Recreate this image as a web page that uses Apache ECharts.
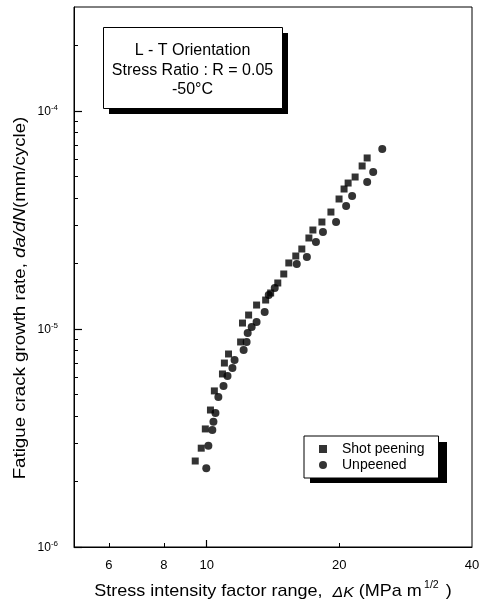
<!DOCTYPE html>
<html>
<head>
<meta charset="utf-8">
<script src="https://cdn.jsdelivr.net/npm/echarts@6/dist/echarts.min.js"></script>
<style>
  html, body { margin: 0; padding: 0; background: #fff; }
  #chart { width: 483px; height: 606px; }
</style>
</head>
<body>
<div id="chart"></div>
<script>
// Stress intensity factor range ΔK (MPa·m^1/2) and crack growth rate da/dN (mm/cycle)
const shotK = [9.42, 9.72, 9.93, 10.2, 10.41, 10.86, 10.97, 11.21, 11.94, 12.06, 12.45, 12.98, 13.61, 13.97, 14.5,
  14.96, 15.36, 15.93, 16.44, 17.06, 17.42, 18.26, 19.14, 19.97, 20.5, 20.94, 21.72, 22.53, 23.13];
const shotRate = [2.48e-6, 2.84e-6, 3.48e-6, 4.25e-6, 5.2e-6, 6.22e-6, 6.98e-6, 7.68e-6, 8.72e-6, 1.065e-5, 1.159e-5,
  1.288e-5, 1.358e-5, 1.463e-5, 1.626e-5, 1.788e-5, 2.009e-5, 2.162e-5, 2.328e-5, 2.615e-5, 2.845e-5, 3.096e-5,
  3.44e-5, 3.948e-5, 4.387e-5, 4.673e-5, 4.98e-5, 5.596e-5, 6.09e-5];

const unpK = [9.98, 10.09, 10.3, 10.36, 10.47, 10.63, 10.92, 11.15, 11.44, 11.57, 12.13, 12.32, 12.39, 12.65, 12.98,
  13.54, 13.83, 14.27, 16.01, 16.88, 17.7, 18.36, 19.66, 20.72, 21.38, 23.13, 23.87, 25.03];
const unpRate = [2.3e-6, 2.91e-6, 3.44e-6, 3.75e-6, 4.12e-6, 4.88e-6, 5.48e-6, 6.09e-6, 6.62e-6, 7.21e-6, 8.01e-6,
  8.72e-6, 9.59e-6, 1.021e-5, 1.077e-5, 1.197e-5, 1.432e-5, 1.542e-5, 1.987e-5, 2.139e-5, 2.506e-5, 2.786e-5,
  3.096e-5, 3.665e-5, 4.074e-5, 4.723e-5, 5.251e-5, 6.696e-5];

// Axis ticks and labels
const xLabelValues = [6, 8, 10, 20, 40];
const xMajorTicks = [10];
const xMinorTicks = [6, 8, 20];
const yMajorTicks = [1e-6, 1e-5, 1e-4];
const yMinorTicks = [2e-6, 3e-6, 4e-6, 5e-6, 6e-6, 7e-6, 8e-6, 9e-6,
  2e-5, 3e-5, 4e-5, 5e-5, 6e-5, 7e-5, 8e-5, 9e-5, 2e-4];

const seriesNames = ['Shot peening', 'Unpeened'];
const noteLines = ['L - T Orientation', 'Stress Ratio : R = 0.05', '-50°C'];

const FONT = '"Liberation Sans", Arial, sans-serif';
const zip = (a, b) => a.map((v, i) => [v, b[i]]);

const xBase = { type: 'log', logBase: 10, min: 5, max: 40, gridIndex: 0, position: 'bottom',
  splitLine: { show: false }, minorTick: { show: false } };
const yBase = { type: 'log', logBase: 10, min: 1e-6, max: 3e-4, gridIndex: 0, position: 'left',
  splitLine: { show: false }, minorTick: { show: false } };

const noteText = (text, y) => ({
  type: 'text', x: 192.5, y: y, z: 3,
  style: { text: text, fill: '#000', font: '16px ' + FONT, align: 'center', verticalAlign: 'middle' }
});

const chart = echarts.init(document.getElementById('chart'), null, { renderer: 'canvas' });

chart.setOption({
  animation: false,
  backgroundColor: '#fff',
  grid: { left: 74, right: 11, top: 7, bottom: 59, show: true, borderColor: '#000', borderWidth: 1, backgroundColor: 'transparent' },
  xAxis: [
    Object.assign({}, xBase, {
      axisLine: { show: true, lineStyle: { color: '#000', width: 1 } },
      axisTick: { show: true, inside: true, length: 7, customValues: xMajorTicks, lineStyle: { color: '#000', width: 1.2 } },
      axisLabel: { show: true, customValues: xLabelValues, margin: 12, color: '#000', fontSize: 13, fontFamily: FONT,
        formatter: v => String(Math.round(v)) }
    }),
    Object.assign({}, xBase, {
      axisLine: { show: false },
      axisTick: { show: true, inside: true, length: 4, customValues: xMinorTicks, lineStyle: { color: '#000', width: 1 } },
      axisLabel: { show: false }
    })
  ],
  yAxis: [
    Object.assign({}, yBase, {
      axisLine: { show: true, lineStyle: { color: '#000', width: 1 } },
      axisTick: { show: true, inside: true, length: 8, customValues: yMajorTicks, lineStyle: { color: '#000', width: 1.2 } },
      axisLabel: { show: true, customValues: yMajorTicks, margin: 16, color: '#000', fontFamily: FONT,
        formatter: v => '{b|10}{s|' + Math.round(Math.log10(v)) + '}',
        rich: {
          b: { fontSize: 12, fontFamily: FONT, color: '#000', lineHeight: 14, verticalAlign: 'bottom' },
          s: { fontSize: 8, fontFamily: FONT, color: '#000', lineHeight: 14, verticalAlign: 'top' }
        } }
    }),
    Object.assign({}, yBase, {
      axisLine: { show: false },
      axisTick: { show: true, inside: true, length: 4, customValues: yMinorTicks, lineStyle: { color: '#000', width: 1 } },
      axisLabel: { show: false }
    })
  ],
  legend: {
    orient: 'vertical', left: 304, top: 436,
    itemWidth: 8, itemHeight: 8, itemGap: 2,
    padding: [6, 14, 6, 15],
    backgroundColor: '#fff', borderColor: '#000', borderWidth: 1,
    textStyle: { fontSize: 14, fontFamily: FONT, color: '#000', padding: [0, 0, 0, 10] },
    data: [{ name: seriesNames[0], icon: 'rect' }, { name: seriesNames[1], icon: 'circle' }]
  },
  graphic: [
    // note box with drop shadow
    { type: 'rect', left: 109, top: 33, shape: { width: 179, height: 81 }, style: { fill: '#000' }, z: 1 },
    { type: 'rect', left: 103, top: 27, shape: { width: 179, height: 81 }, style: { fill: '#fff', stroke: '#000', lineWidth: 1 }, z: 2 },
    noteText(noteLines[0], 51),
    noteText(noteLines[1], 71),
    noteText(noteLines[2], 89.5),
    // legend drop shadow
    { type: 'rect', left: 310, top: 442, shape: { width: 137, height: 41 }, style: { fill: '#000' }, z: 0 },
    // axis titles
    { type: 'text', x: 20, y: 298, rotation: Math.PI / 2, scaleX: 1.1, z: 3,
      style: {
        text: '{n|Fatigue crack growth rate, }{i|da/dN}{n|(mm/cycle)}',
        align: 'center', verticalAlign: 'middle',
        rich: {
          n: { fontSize: 17, fontFamily: FONT, fill: '#000' },
          i: { fontSize: 17, fontFamily: FONT, fontStyle: 'italic', fill: '#000' }
        }
      } },
    { type: 'text', x: 273, y: 590, scaleX: 1.06, z: 3,
      style: {
        text: '{n|Stress intensity factor range,  }{i|ΔK}{n| (MPa m}{s|1/2}{n| )}',
        align: 'center', verticalAlign: 'middle',
        rich: {
          n: { fontSize: 17, fontFamily: FONT, fill: '#000', lineHeight: 20, verticalAlign: 'bottom' },
          i: { fontSize: 15, fontFamily: FONT, fontStyle: 'italic', fill: '#000', lineHeight: 20, verticalAlign: 'bottom' },
          s: { fontSize: 10, fontFamily: FONT, fill: '#000', lineHeight: 20, verticalAlign: 'top', padding: [0, 2, 0, 2] }
        }
      } }
  ],
  series: [
    { name: seriesNames[0], type: 'scatter', xAxisIndex: 0, yAxisIndex: 0, symbol: 'rect', symbolSize: 7,
      itemStyle: { color: '#000' }, data: zip(shotK, shotRate), z: 3 },
    { name: seriesNames[1], type: 'scatter', xAxisIndex: 0, yAxisIndex: 0, symbol: 'circle', symbolSize: 8,
      itemStyle: { color: '#000' }, data: zip(unpK, unpRate), z: 3 }
  ]
});
</script>
</body>
</html>
